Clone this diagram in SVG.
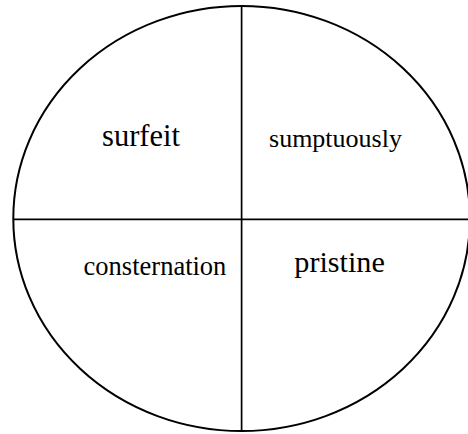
<svg xmlns="http://www.w3.org/2000/svg" width="468" height="434" viewBox="0 0 468 434">
<style>
.l{fill:none;stroke:#000;stroke-width:1.7}
.e{fill:none;stroke:#000;stroke-width:2}
.t{font-family:'Liberation Serif','Times New Roman',serif;fill:#000;text-anchor:middle}
</style>
<rect width="468" height="434" fill="#fff"/>
<g id="outline"><ellipse class="e" cx="241.6" cy="218.5" rx="228.3" ry="212.5"/></g>
<g id="connectors">
<line class="l" x1="241.6" y1="6" x2="241.6" y2="431"/>
<line class="l" x1="13.3" y1="219.3" x2="468" y2="219.3"/>
</g>
<g id="n1"><text class="t" x="141" y="146" font-size="30.5">surfeit</text></g>
<g id="n2"><text class="t" x="335.5" y="146.5" font-size="26">sumptuously</text></g>
<g id="n3"><text class="t" x="155" y="275" font-size="26.5">consternation</text></g>
<g id="n4"><text class="t" x="339.6" y="272" font-size="30.2">pristine</text></g>
</svg>
